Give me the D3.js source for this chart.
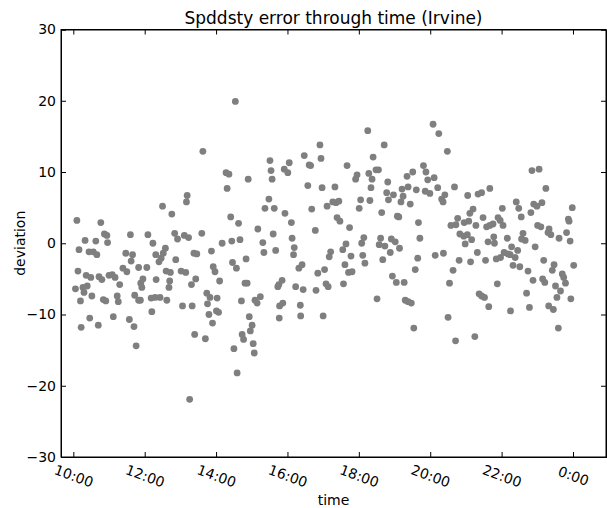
<!DOCTYPE html>
<html>
<head>
<meta charset="utf-8">
<script src="https://cdn.jsdelivr.net/npm/d3@7"></script>
<style>
  html, body { margin: 0; padding: 0; background: #fff; }
  svg { display: block; }
  text { font-family: "DejaVu Sans", sans-serif; fill: #000; }
</style>
</head>
<body>
<svg id="chart" width="607" height="508"></svg>
<script>
// Time of each observation, in hours (24 = midnight)
const times = [
  10.06,10.10,10.13,10.16,10.20,10.22,10.27,10.30,10.33,10.36,
  10.39,10.44,10.46,10.49,10.52,10.56,10.63,10.66,10.70,10.72,
  10.77,10.80,10.84,10.87,10.91,10.94,10.96,11.00,11.09,11.12,
  11.17,11.23,11.26,11.30,11.39,11.47,11.50,11.57,11.60,11.62,
  11.66,11.70,11.72,11.76,11.83,11.83,11.88,11.89,11.92,11.95,
  12.06,12.09,12.18,12.20,12.23,12.29,12.31,12.32,12.40,12.43,
  12.46,12.50,12.52,12.58,12.60,12.62,12.68,12.70,12.72,12.76,
  12.84,12.87,12.92,13.02,13.06,13.11,13.15,13.17,13.19,13.23,
  13.26,13.31,13.33,13.38,13.40,13.43,13.46,13.60,13.63,13.70,
  13.74,13.76,13.80,13.83,13.87,13.90,13.92,13.97,14.01,14.03,
  14.07,14.10,14.17,14.28,14.31,14.36,14.41,14.44,14.46,14.50,
  14.54,14.57,14.59,14.63,14.67,14.71,14.73,14.77,14.81,14.84,
  14.87,14.90,14.93,14.96,15.01,15.04,15.07,15.09,15.15,15.17,
  15.24,15.31,15.34,15.37,15.48,15.51,15.54,15.57,15.60,15.63,
  15.67,15.73,15.76,15.77,15.78,15.85,15.87,15.91,15.93,16.01,
  16.05,16.11,16.13,16.17,16.19,16.23,16.32,16.36,16.37,16.41,
  16.44,16.47,16.57,16.61,16.65,16.68,16.78,16.80,16.85,16.91,
  16.94,16.97,17.00,17.04,17.08,17.11,17.14,17.17,17.21,17.27,
  17.33,17.36,17.39,17.44,17.47,17.55,17.57,17.61,17.64,17.67,
  17.71,17.74,17.78,17.81,17.91,17.95,18.01,18.05,18.08,18.11,
  18.14,18.17,18.25,18.28,18.31,18.34,18.37,18.40,18.48,18.51,
  18.55,18.57,18.61,18.64,18.67,18.71,18.73,18.78,18.81,18.83,
  18.88,18.91,18.94,18.97,19.02,19.05,19.08,19.12,19.14,19.18,
  19.21,19.24,19.27,19.30,19.35,19.38,19.38,19.44,19.47,19.51,
  19.54,19.58,19.61,19.65,19.67,19.71,19.81,19.86,19.88,19.93,
  19.99,20.08,20.11,20.14,20.21,20.24,20.32,20.36,20.37,20.41,
  20.48,20.50,20.54,20.58,20.64,20.68,20.71,20.72,20.77,20.81,
  20.83,20.94,20.95,20.98,21.04,21.05,21.08,21.11,21.13,21.16,
  21.20,21.25,21.28,21.32,21.34,21.37,21.44,21.44,21.48,21.52,
  21.55,21.58,21.62,21.64,21.67,21.67,21.76,21.78,21.80,21.85,
  21.88,21.90,21.96,21.97,22.02,22.04,22.07,22.16,22.18,22.24,
  22.25,22.28,22.32,22.38,22.41,22.45,22.48,22.51,22.55,22.56,
  22.60,22.66,22.70,22.74,22.78,22.82,22.85,22.88,22.90,22.94,
  22.99,23.01,23.05,23.10,23.13,23.15,23.18,23.21,23.24,23.30,
  23.32,23.33,23.38,23.42,23.45,23.47,23.51,23.55,23.59,23.61,
  23.65,23.70,23.74,23.79,23.82,23.87,23.89,23.92,23.94,23.98,
  24.02
];

// Speed-density error (deviation) at each time
const deviations = [
  -6.4,3.2,-3.9,-0.9,-8.1,-11.8,-6.2,-6.9,0.4,-4.5,
  -6.0,-1.2,-10.5,-4.8,-7.4,-1.2,0.3,-1.6,-11.5,-4.7,
  2.9,-5.1,-7.9,1.3,-8.1,1.1,0.1,-4.5,-4.4,-10.3,
  -4.8,-7.4,-8.2,-5.8,-3.5,-1.4,-4.0,-10.7,1.2,-2.5,
  -1.6,-11.7,-7.3,-14.4,-3.4,-8.0,-8.0,-5.6,-6.2,-5.0,
  -3.4,1.2,-7.7,-9.6,0.0,-7.6,-1.6,-5.1,-2.6,-7.6,
  -2.1,5.2,-1.4,-0.7,-3.9,-8.0,-6.2,-5.3,-4.1,4.1,
  1.4,-2.3,0.6,-3.9,-8.8,1.1,-4.1,5.8,6.7,0.8,
  -21.9,-5.8,-8.8,-1.4,-12.8,-5.0,-1.5,1.4,12.9,-13.4,
  -7.0,-8.5,-10.0,-7.6,-1.1,-11.2,-3.3,-4.0,-9.5,-7.7,
  -9.7,-5.3,0.0,9.9,7.7,9.7,3.7,0.3,-2.7,-14.8,
  19.9,-3.5,-18.2,2.8,0.5,-8.1,-12.8,-13.5,-5.6,-2.2,
  -5.6,9.0,-10.3,-12.3,-11.5,-14.1,-15.4,-8.0,-8.4,2.0,
  -7.5,0.1,-1.3,4.9,6.2,11.6,10.2,9.0,1.3,4.9,
  -1.0,-6.1,-5.8,-10.5,-8.8,-5.2,-8.4,10.4,4.2,9.9,
  11.3,2.9,0.7,-1.6,-0.6,-6.1,-3.5,-8.7,-10.2,-3.0,
  -6.5,12.3,8.1,11.0,10.9,4.8,1.8,-6.6,-4.2,13.8,
  11.9,7.8,-10.2,-3.7,-5.7,5.2,-6.1,-1.9,-1.2,5.8,
  7.9,5.7,3.6,5.9,3.1,-0.9,-5.7,-3.0,-0.1,10.9,
  -4.1,2.2,-1.8,-4.0,9.0,9.6,4.9,6.1,0.0,-1.7,
  0.8,-2.8,15.8,9.8,6.0,7.8,9.0,12.1,10.3,-7.8,
  10.3,-0.2,0.7,4.3,-2.3,13.8,-0.4,7.1,8.6,6.1,
  -1.3,0.6,-4.6,6.8,0.2,-5.5,3.8,3.7,-0.7,5.8,
  7.6,6.6,-5.5,-8.0,9.4,7.9,-8.2,5.5,-8.4,10.0,
  -11.9,-3.7,7.5,-2.1,2.9,0.7,10.9,7.3,10.0,8.9,
  7.0,16.7,9.2,-1.7,7.8,15.4,6.2,5.8,-1.4,6.8,
  12.9,-10.4,-5.6,2.5,-3.8,7.9,-13.7,2.6,3.5,-2.4,
  1.3,1.0,2.9,-0.1,1.2,6.7,3.1,4.2,-2.6,0.5,
  4.8,-13.1,2.5,-1.3,6.9,-7.1,7.1,-7.4,3.6,-7.6,
  -2.4,2.3,0.2,-8.9,7.7,2.5,2.7,0.9,0.0,-2.2,
  -5.7,3.6,3.2,-2.0,4.9,2.5,-1.3,0.7,-1.5,-1.6,
  -9.5,-0.5,-3.1,-2.0,5.8,-1.0,4.9,-3.3,3.7,0.6,
  1.4,0.4,-7.0,-3.9,-9.0,4.3,10.2,-5.2,5.5,-0.5,
  5.2,2.5,10.4,2.3,5.7,-5.0,-2.4,-5.5,7.7,1.5,
  -8.8,2.0,1.2,-3.8,-9.3,-3.0,-6.0,-7.6,-11.9,0.7,
  -6.7,-4.3,-4.8,-5.6,1.5,3.4,3.1,0.3,-7.8,5.0,
  -3.1
];

const xTicks = [10, 12, 14, 16, 18, 20, 22, 24];
const xTickLabels = ["10:00", "12:00", "14:00", "16:00", "18:00", "20:00", "22:00", "0:00"];
const yTicks = [-30, -20, -10, 0, 10, 20, 30];

const points = times.map((t, i) => ({ t, d: deviations[i] }));

const svg = d3.select("#chart");
const pLeft = 61, pRight = 606, pTop = 29.5, pBottom = 457;

const x = d3.scaleLinear().domain([9.655, 24.925]).range([pLeft, pRight]);
const y = d3.scaleLinear().domain([-30, 30]).range([pBottom, pTop]);

// points
svg.append("g")
  .selectAll("circle")
  .data(points)
  .enter().append("circle")
  .attr("cx", p => x(p.t))
  .attr("cy", p => y(p.d))
  .attr("r", 3.4)
  .attr("fill", "#7f7f7f");

const tickLen = 5;
const fmtY = v => (v < 0 ? "\u2212" + Math.abs(v) : String(v));

// bottom axis (ticks inward)
const xAxis = d3.axisBottom(x).tickValues(xTicks).tickSize(-tickLen).tickPadding(8)
  .tickFormat((d, i) => xTickLabels[i]);
const gx = svg.append("g").attr("transform", `translate(0,${pBottom})`).call(xAxis);
gx.selectAll("text")
  .attr("font-size", "14px")
  .attr("font-family", "DejaVu Sans")
  .attr("text-anchor", "middle")
  .attr("dy", null)
  .attr("y", null)
  .attr("dominant-baseline", "central")
  .attr("transform", "translate(0,19) rotate(20)");

// top axis
svg.append("g").attr("transform", `translate(0,${pTop})`)
  .call(d3.axisTop(x).tickValues(xTicks).tickSize(-tickLen).tickFormat(""));

// left axis
const gy = svg.append("g").attr("transform", `translate(${pLeft},0)`)
  .call(d3.axisLeft(y).tickValues(yTicks).tickSize(-tickLen).tickPadding(5).tickFormat(fmtY));
gy.selectAll("text").attr("font-size", "14px").attr("font-family", "DejaVu Sans");

// right axis
svg.append("g").attr("transform", `translate(${pRight},0)`)
  .call(d3.axisRight(y).tickValues(yTicks).tickSize(-tickLen).tickFormat(""));

svg.selectAll(".domain").attr("stroke", "#000").attr("stroke-width", 1);
svg.selectAll(".tick line").attr("stroke", "#000").attr("stroke-width", 1);

// frame
svg.append("rect")
  .attr("x", pLeft).attr("y", pTop)
  .attr("width", pRight - pLeft).attr("height", pBottom - pTop)
  .attr("fill", "none").attr("stroke", "#000").attr("stroke-width", 1);

// title
svg.append("text")
  .attr("x", (pLeft + pRight) / 2).attr("y", 24)
  .attr("text-anchor", "middle")
  .attr("font-size", "17px")
  .text("Spddsty error through time (Irvine)");

// axis labels
svg.append("text")
  .attr("x", (pLeft + pRight) / 2).attr("y", 505)
  .attr("text-anchor", "middle")
  .attr("font-size", "14px")
  .text("time");

svg.append("text")
  .attr("transform", `translate(25,${(pTop + pBottom) / 2}) rotate(-90)`)
  .attr("text-anchor", "middle")
  .attr("font-size", "14px")
  .text("deviation");
</script>
</body>
</html>
